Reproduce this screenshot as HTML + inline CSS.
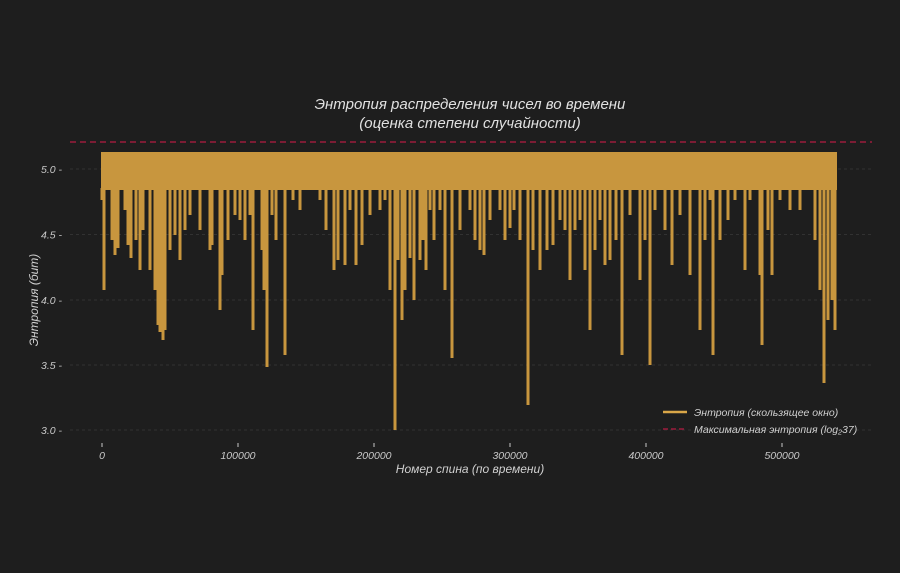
<!DOCTYPE html>
<html><head><meta charset="utf-8"><style>
html,body{margin:0;padding:0;background:#1e1e1e;}
svg{display:block;font-family:"Liberation Sans","DejaVu Sans",sans-serif;}
</style></head><body>
<svg id="s" width="900" height="573" viewBox="0 0 900 573" xmlns="http://www.w3.org/2000/svg">
<rect width="900" height="573" fill="#1e1e1e"/>
<g stroke="#3a3a3a" stroke-width="0.8" stroke-dasharray="3,3">
<line x1="70" x2="872" y1="169" y2="169"/>
<line x1="70" x2="872" y1="234.5" y2="234.5"/>
<line x1="70" x2="872" y1="300" y2="300"/>
<line x1="70" x2="872" y1="365" y2="365"/>
<line x1="70" x2="872" y1="430" y2="430"/>
</g>
<g fill="#c8c8c8" font-size="10.5" font-style="italic" text-anchor="end">
<text x="62" y="173">5.0 -</text>
<text x="62" y="238.5">4.5 -</text>
<text x="62" y="304">4.0 -</text>
<text x="62" y="369">3.5 -</text>
<text x="62" y="434">3.0 -</text>
</g>
<g fill="#c8c8c8" font-size="10.5" font-style="italic" text-anchor="middle">
<text x="102" y="459">0</text>
<text x="238" y="459">100000</text>
<text x="374" y="459">200000</text>
<text x="510" y="459">300000</text>
<text x="646" y="459">400000</text>
<text x="782" y="459">500000</text>
</g>
<g stroke="#c8c8c8" stroke-width="1">
<line x1="102" x2="102" y1="443" y2="447"/><line x1="238" x2="238" y1="443" y2="447"/>
<line x1="374" x2="374" y1="443" y2="447"/><line x1="510" x2="510" y1="443" y2="447"/>
<line x1="646" x2="646" y1="443" y2="447"/><line x1="782" x2="782" y1="443" y2="447"/>
</g>
<text x="470" y="473" fill="#d0d0d0" font-size="12" font-style="italic" text-anchor="middle">Номер спина (по времени)</text>
<text transform="translate(38,300) rotate(-90)" fill="#d0d0d0" font-size="12" font-style="italic" text-anchor="middle">Энтропия (бит)</text>
<text x="470" y="109" fill="#e0e0e0" font-size="15" font-style="italic" text-anchor="middle">Энтропия распределения чисел во времени</text>
<text x="470" y="128" fill="#e0e0e0" font-size="15" font-style="italic" text-anchor="middle">(оценка степени случайности)</text>
<line x1="70" x2="872" y1="142" y2="142" stroke="#9b1b3c" stroke-width="1.6" stroke-dasharray="6,4"/>
<rect x="101" y="152" width="736" height="38" fill="#c8963e"/>
<g id="sp" stroke="#c8963e" stroke-width="3"></g>
<g font-size="10.5" font-style="italic" fill="#d0d0d0">
<line x1="663" x2="687" y1="412" y2="412" stroke="#d9a648" stroke-width="2.5"/>
<text x="694" y="416">Энтропия (скользящее окно)</text>
<line x1="663" x2="687" y1="429" y2="429" stroke="#9b1b3c" stroke-width="1.6" stroke-dasharray="5,3"/>
<text x="694" y="433">Максимальная энтропия (log₂37)</text>
</g>
</svg>
<script>
var d=[[102,200],[104,290],[112,240],[115,255],[118,248],[125,210],[128,245],[131,258],[136,240],[140,270],[143,230],[150,270],[155,290],[158,325],[160,332],[163,340],[165,330],[170,250],[175,235],[180,260],[185,230],[190,215],[200,230],[210,250],[212,245],[220,310],[222,275],[228,240],[235,215],[240,220],[245,240],[250,215],[253,330],[262,250],[264,290],[267,367],[272,215],[276,240],[285,355],[293,200],[300,210],[320,200],[326,230],[334,270],[338,260],[345,265],[350,210],[356,265],[362,245],[370,215],[380,210],[385,200],[390,290],[395,430],[398,260],[402,320],[405,290],[410,258],[414,300],[420,260],[423,240],[426,270],[430,210],[434,240],[440,210],[445,290],[452,358],[460,230],[470,210],[475,240],[480,250],[484,255],[490,220],[500,210],[505,240],[510,228],[514,210],[520,240],[528,405],[533,250],[540,270],[547,250],[553,245],[560,220],[565,230],[570,280],[575,230],[580,220],[585,270],[590,330],[595,250],[600,220],[605,265],[610,260],[616,240],[622,355],[630,215],[640,280],[645,240],[650,365],[655,210],[665,230],[672,265],[680,215],[690,275],[700,330],[705,240],[710,200],[713,355],[720,240],[728,220],[735,200],[745,270],[750,200],[760,275],[762,345],[768,230],[772,275],[780,200],[790,210],[800,210],[815,240],[820,290],[824,383],[828,320],[832,300],[835,330]];
var g=document.getElementById('sp'),h='';
d.forEach(function(p){h+='<line x1="'+p[0]+'" x2="'+p[0]+'" y1="188" y2="'+p[1]+'"/>';});
g.innerHTML=h;
</script>
</body></html>
